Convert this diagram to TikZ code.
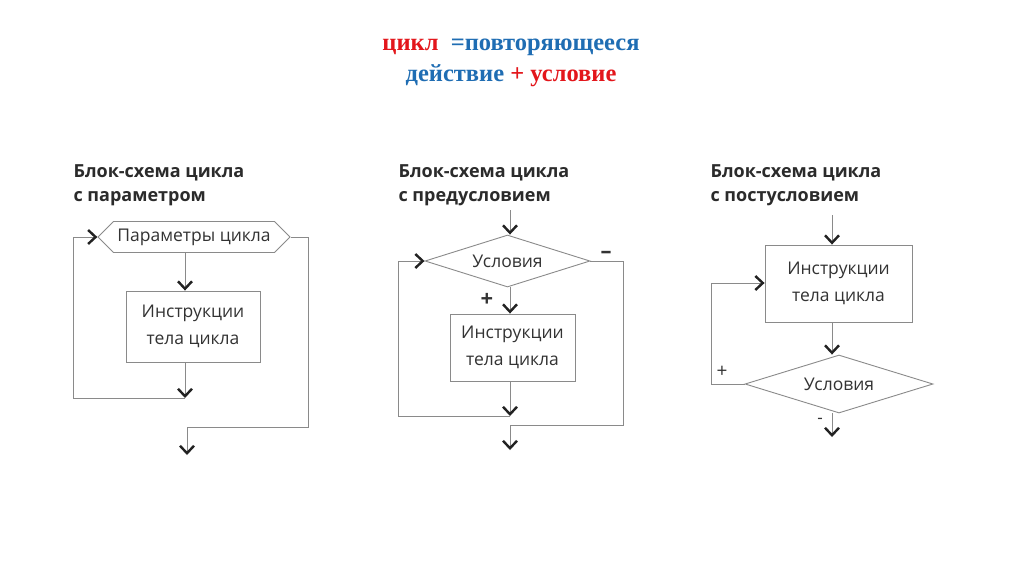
\documentclass[tikz,border=0pt]{standalone}
\usepackage{fontspec}
\setmainfont{Open Sans}
\newfontfamily\titlefont{Liberation Serif}
\usetikzlibrary{arrows.meta,shapes.geometric,shapes.symbols}
\definecolor{tred}{HTML}{E3161B}
\definecolor{tblue}{HTML}{1F6DB3}
\definecolor{ln}{HTML}{8A8A8A}
\definecolor{txt}{HTML}{333333}
\definecolor{tip}{HTML}{222222}
\tikzset{
  every node/.style={text=txt},
  lin/.style={draw=ln, line width=0.9pt},
  arr/.style={lin, -{Straight Barb[length=7.5pt,width=14pt,line width=2.4pt,color=tip]}},
  procbox/.style={draw=ln, line width=0.9pt, align=center, font=\fontsize{17.5}{27}\selectfont, inner sep=0pt},
  cond/.style={diamond, draw=ln, line width=0.9pt, font=\fontsize{17.5}{18}\selectfont, inner sep=0pt},
  head/.style={anchor=north west, align=left, font=\fontsize{18}{24}\selectfont\bfseries, text=txt!85!black},
  sign/.style={font=\fontsize{22}{22}\selectfont\bfseries, text=txt}
}
\begin{document}
\begin{tikzpicture}[x=1pt,y=-1pt]
\useasboundingbox[fill=white] (0,0) rectangle (1024,574);
% title
\node[font=\titlefont\fontsize{24.5}{31}\selectfont\bfseries, align=center] (title) at (511,63)
  {\textcolor{tred}{цикл}\ \ \textcolor{tblue}{=повторяющееся}\\
   \textcolor{tblue}{действие} \textcolor{tred}{+ условие}};

% ---------- diagram 1
\node[head] (h1) at (70,161) {Блок-схема цикла\\с параметром};
\node[signal, signal to=west and east, signal pointer angle=90, draw=ln, line width=0.9pt,
      minimum width=192pt, minimum height=31pt, inner sep=0pt,
      font=\fontsize{17.5}{18}\selectfont] (hex) at (194,237) {Параметры цикла};
\node[procbox, minimum width=134pt, minimum height=71pt] (b1) at (193,326.5) {Инструкции\\тела цикла};
\coordinate (c1) at (185,398);
\coordinate (e1) at (187,455);
\draw[arr] (hex.south -| 185,0) -- (b1.north -| 185,0);
\draw[arr] (b1.south -| 185,0) -- (c1);
\draw[arr] (c1) -- (73,398) -- (73,237) -- (hex.west);
\draw[arr] (hex.east) -- (308,237) -- (308,427) -- (187,427) -- (e1);

% ---------- diagram 2
\node[head] (h2) at (395,161) {Блок-схема цикла\\с предусловием};
\coordinate (s2) at (510,210);
\node[cond, aspect=3.17, minimum width=165pt, minimum height=52pt] (d2) at (507.5,261) {Условия};
\node[procbox, minimum width=125pt, minimum height=67pt] (b2) at (512.5,347.5) {Инструкции\\тела цикла};
\coordinate (c2) at (510,416);
\coordinate (e2) at (510,450);
\draw[arr] (s2) -- (d2.north -| s2);
\draw[arr] (d2.south -| s2) -- (b2.north -| s2);
\draw[arr] (b2.south -| s2) -- (c2);
\draw[arr] (c2) -- (398,416) -- (398,261) -- (d2.west);
\draw[lin] (d2.east) -- (623,261) -- (623,425) -- (510,425);
\draw[arr] (510,425) -- (e2);
\node[sign] (p2) at (487,300) {+};
\node[sign] (m2) at (606,255) {–};

% ---------- diagram 3
\node[head] (h3) at (707,161) {Блок-схема цикла\\с постусловием};
\coordinate (s3) at (832,215);
\node[procbox, minimum width=147pt, minimum height=77pt] (b3) at (838.5,283.5) {Инструкции\\тела цикла};
\node[cond, aspect=3.24, minimum width=188pt, minimum height=58pt] (d3) at (839,384) {Условия};
\coordinate (e3) at (832,437);
\draw[arr] (s3) -- (b3.north -| s3);
\draw[arr] (b3.south -| s3) -- (d3.north -| s3);
\draw[arr] (d3.west) -- (711,384) -- (711,283) -- (b3.west |- 0,283);
\draw[arr] (d3.south -| s3) -- (e3);
\node[font=\fontsize{19}{19}\selectfont] (p3) at (722,372) {+};
\node[font=\fontsize{17}{17}\selectfont] (m3) at (820,421) {-};
\end{tikzpicture}
\end{document}
